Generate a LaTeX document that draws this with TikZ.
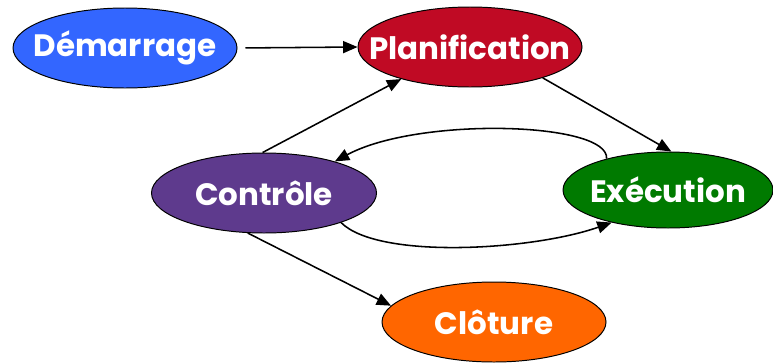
\documentclass[tikz,border=0pt]{standalone}
\usepackage{fontspec}
\setmainfont{Poppins}
\usetikzlibrary{shapes.geometric, arrows.meta}
\definecolor{bleuDem}{HTML}{3366FF}
\definecolor{rougePlan}{HTML}{C00A24}
\definecolor{vertExe}{HTML}{007A00}
\definecolor{violetCtl}{HTML}{5E3A8D}
\definecolor{orangeClo}{HTML}{FF6600}
% texte sans largeur : la taille de l'ellipse est fixee par le style
\newcommand{\etiquette}[1]{\makebox[0pt]{#1}}
\begin{document}
\begin{tikzpicture}[font=\bfseries\fontsize{22}{26}\selectfont,
	phase/.style={ellipse, draw=black, line width=0.7pt, text=white,
		minimum width=5.6cm, minimum height=2cm, inner sep=0pt},
	fleche/.style={line width=1.1pt, -{Triangle[length=3.6mm, width=3mm]}}]
	% 1. Cadre de la figure
	\useasboundingbox (0,0) rectangle (19.325, 9.05);
	% 2. Les phases du projet
	\node[phase, fill=bleuDem] (dem) at (3.125, 7.85) {\etiquette{Démarrage}};
	\node[phase, fill=rougePlan] (plan) at (11.75, 7.875) {\etiquette{Planification}};
	\node[phase, fill=vertExe, minimum width=5.25cm, minimum height=1.9cm] (exe) at (16.7, 4.3) {\etiquette{Exécution}};
	\node[phase, fill=violetCtl, minimum width=5.625cm] (ctl) at (6.6, 4.225) {\etiquette{Contrôle}};
	\node[phase, fill=orangeClo] (clo) at (12.35, 1.0) {\etiquette{Clôture}};
	% 3. Les flèches
	\draw[fleche, shorten <=0.2cm] (dem.east) -- (plan.west);
	\draw[fleche] (plan.-23) -- (exe.85);
	\draw[fleche] (ctl.92) -- (plan.205);
	\draw[fleche] (exe.153) .. controls +(0.075,0.925) and +(2.075,1.125) .. (ctl.24); % retour vers le contrôle
	\draw[fleche] (ctl.-21) .. controls +(0.925,-0.925) and +(-2.0,-0.7) .. (exe.210); % aller vers l'exécution
	\draw[fleche] (ctl.-112) -- (clo.171);
\end{tikzpicture}
\end{document}
